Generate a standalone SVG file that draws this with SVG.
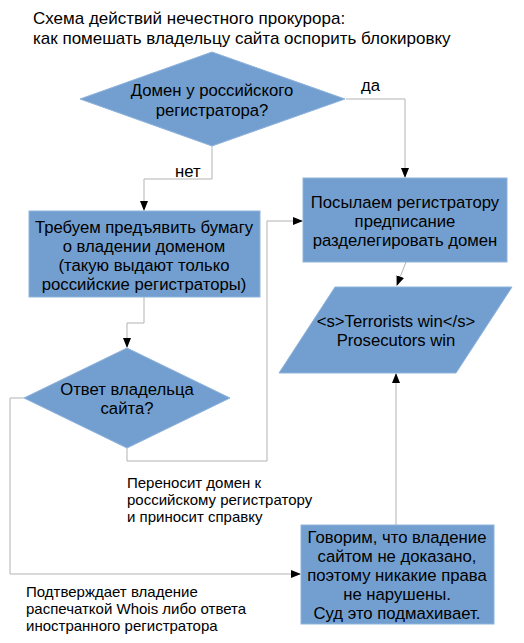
<svg xmlns="http://www.w3.org/2000/svg" width="524" height="643" viewBox="0 0 524 643">
<style>
.shape{fill:#729fcf;stroke:#8fb3dc;stroke-width:1}
.t{font-family:"Liberation Sans",Arial,sans-serif;font-size:16.7px;fill:#000}
.c{text-anchor:middle}
.h{font-size:17px}
.s{font-size:15px}
.ln{fill:none;stroke:#b3b3b3;stroke-width:1}
</style>
<defs>
<marker id="ah" markerWidth="10" markerHeight="10" refX="9" refY="5" orient="auto" markerUnits="userSpaceOnUse">
<path d="M0,1 L10,5 L0,9 Z" fill="#000"/>
</marker>
</defs>
<rect width="524" height="643" fill="#fff"/>
<g id="title">
<text class="t h" x="33" y="24">Схема действий нечестного прокурора:</text>
<text class="t h" x="33" y="44">как помешать владельцу сайта оспорить блокировку</text>
</g>
<g id="connectors">
<polyline class="ln" points="346,99 405,99 405,177" marker-end="url(#ah)"/>
<polyline class="ln" points="212,146 212,179 144,179 144,210" marker-end="url(#ah)"/>
<polyline class="ln" points="144,297 144,323 127,323 127,347" marker-end="url(#ah)"/>
<polyline class="ln" points="127,448 127,461 267,461 267,221 302,221" marker-end="url(#ah)"/>
<polyline class="ln" points="24,398 10,398 10,574 300,574" marker-end="url(#ah)"/>
<line class="ln" x1="406" y1="262" x2="397" y2="285" marker-end="url(#ah)"/>
<line class="ln" x1="396" y1="525" x2="396" y2="374" marker-end="url(#ah)"/>
<text class="t" x="361" y="91">да</text>
<text class="t" x="175" y="177">нет</text>
<text class="t s" x="127" y="488">Переносит домен к</text>
<text class="t s" x="127" y="505">российскому регистратору</text>
<text class="t s" x="127" y="522">и приносит справку</text>
<text class="t s" x="26" y="597">Подтверждает владение</text>
<text class="t s" x="26" y="614">распечаткой Whois либо ответа</text>
<text class="t s" x="26" y="631">иностранного регистратора</text>
</g>
<g id="q1">
<polygon class="shape" points="80,99 212,52 345,99 212,146"/>
<text class="t c" x="212" y="96">Домен у российского</text>
<text class="t c" x="212" y="116">регистратора?</text>
</g>
<g id="demand">
<rect class="shape" x="29" y="211" width="231" height="86"/>
<text class="t c" x="144" y="233">Требуем предъявить бумагу</text>
<text class="t c" x="144" y="252">о владении доменом</text>
<text class="t c" x="144" y="271">(такую выдают только</text>
<text class="t c" x="144" y="290">российские регистраторы)</text>
</g>
<g id="send">
<rect class="shape" x="303" y="178" width="204" height="84"/>
<text class="t c" x="405" y="208">Посылаем регистратору</text>
<text class="t c" x="405" y="227">предписание</text>
<text class="t c" x="405" y="246">разделегировать домен</text>
</g>
<g id="win">
<polygon class="shape" points="335,287 512,287 456,373 279,373"/>
<text class="t c" x="396" y="327">&lt;s&gt;Terrorists win&lt;/s&gt;</text>
<text class="t c" x="396" y="346">Prosecutors win</text>
</g>
<g id="q2">
<polygon class="shape" points="24,398 127,348 230,398 127,448"/>
<text class="t c" x="127" y="395">Ответ владельца</text>
<text class="t c" x="127" y="414">сайта?</text>
</g>
<g id="court">
<rect class="shape" x="301" y="525" width="193" height="99"/>
<text class="t c" x="397" y="543">Говорим, что владение</text>
<text class="t c" x="397" y="562">сайтом не доказано,</text>
<text class="t c" x="397" y="581">поэтому никакие права</text>
<text class="t c" x="397" y="600">не нарушены.</text>
<text class="t c" x="397" y="619">Суд это подмахивает.</text>
</g>
</svg>
